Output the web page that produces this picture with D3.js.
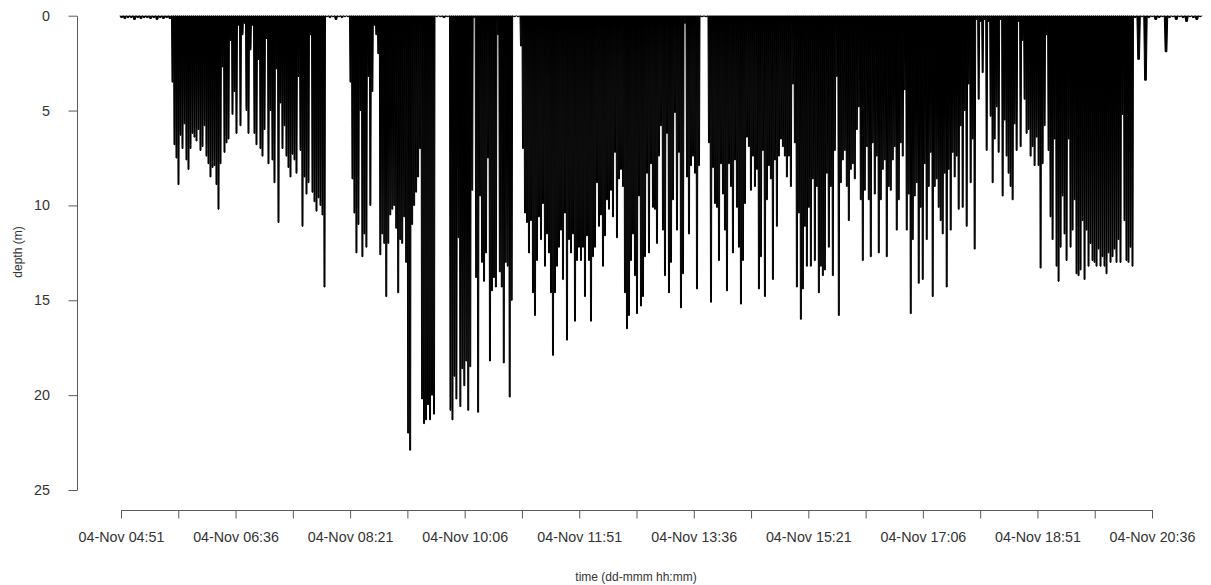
<!DOCTYPE html>
<html>
<head>
<meta charset="utf-8">
<script src="https://cdn.jsdelivr.net/npm/d3@7"></script>
<style>
  html, body { margin: 0; padding: 0; background: #fff; }
  svg { display: block; font-family: "Liberation Sans", Arial, Helvetica, sans-serif; }
</style>
</head>
<body>
<svg id="chart" width="1211" height="585"></svg>
<script>
// Dive record of one day: surface periods and dive bouts.
// Each phase runs from its start to its end time; its dives are spread evenly across it.
const recordDay = "2011-11-04";

const phaseTimes = [
  ["04:50:05", "05:37:17"],  // surface
  ["05:37:17", "07:58:26"],  // bout 1
  ["07:58:26", "08:20:26"],  // surface
  ["08:20:26", "09:38:48"],  // bout 2
  ["09:38:48", "09:52:06"],  // surface
  ["09:52:06", "10:50:00"],  // bout 3
  ["10:50:00", "10:56:43"],  // surface
  ["10:56:43", "13:41:42"],  // bout 4
  ["13:41:42", "13:49:02"],  // surface
  ["13:49:02", "20:19:02"],  // bout 5
  ["20:19:02", "21:21:48"]   // surface
];

// Maximum depth (m) of each dive, in order
const surface1 = [0.1, 0.15, 0.1, 0.1, 0.2, 0.1, 0.15, 0.1, 0.1, 0.15, 0.1, 0.2, 0.1, 0.15, 0.1, 0.15];
const bout1 = [
  3.5, 6.8, 7.5, 8.9, 6.3, 7.0, 5.7, 7.6, 8.1, 7.0, 6.2, 6.4, 6.6, 6.0,
  7.1, 6.9, 5.8, 7.4, 7.8, 8.5, 8.0, 7.9, 8.9, 10.2, 7.8, 2.7, 7.2, 6.7, 6.5, 1.3, 5.2, 4.0, 6.2, 0.5,
  5.8, 1.0, 0.4, 5.0, 6.2, 1.8, 0.5, 6.2, 6.8, 2.3, 7.0, 7.4, 6.0, 1.2, 7.8, 5.0, 7.6, 8.8, 2.8, 10.9,
  4.6, 7.0, 5.8, 7.4, 8.0, 8.5, 7.3, 7.6, 8.3, 3.2,
  7.1, 11.1, 8.5, 9.4, 8.8, 1.0, 9.3, 9.8, 10.3, 9.6, 10.0, 10.5, 14.3
];
const surface2 = [0.05, 0.1, 0.05, 0.2, 0.05, 0.1, 0.05, 0.05];
const bout2 = [
  3.5, 8.6, 10.4, 12.5, 11.0, 5.0, 12.7, 11.5, 12.2, 3.2, 10.0, 4.0, 0.5, 1.0, 2.0, 12.6, 11.5, 12.0,
  14.8, 12.0, 10.5, 10.2, 10.0, 11.2, 14.6,
  11.8, 12.0, 10.6, 13.0, 22.0, 22.9, 11.0, 10.0, 9.3, 8.5, 7.0, 20.2, 21.5, 21.3, 20.5, 21.3, 20.0, 21.0
];
const surface3 = [0.05, 0.05, 0.1, 0.05];
const bout3 = [
  20.8, 21.3, 19.0, 20.2, 11.7, 20.6, 18.6, 19.5, 18.2, 20.8, 18.5, 9.2, 0.1, 13.8, 20.9, 9.5, 13.0,
  14.0, 12.5, 7.5, 18.2, 14.5, 13.8, 14.3, 1.0,
  13.5, 14.3, 18.3, 13.0, 13.2, 20.1, 15.0
];
const surface4 = [0.05, 0.05];
const bout4 = [
  1.6, 7.0, 10.4, 10.9, 12.5, 10.8, 14.6, 15.8, 12.9, 10.6, 11.8, 9.9, 13.2, 11.5, 12.5, 14.6, 17.9,
  14.6, 13.2, 12.2, 11.3, 13.9, 10.4, 17.1, 11.8, 12.5, 11.5, 16.1, 12.9, 12.2, 12.9, 12.2, 14.8, 11.6,
  12.9, 16.1, 12.7, 12.2, 8.8, 11.1,
  10.5, 13.2, 11.6, 9.7, 10.2, 9.2, 10.6, 7.2, 11.7, 8.6, 8.1, 9.0, 14.6, 16.5, 15.8, 12.9, 11.5, 13.7,
  15.7, 9.5, 15.3, 14.8, 12.7, 8.3, 12.5, 7.8, 10.1, 10.2, 12.0, 7.4, 5.8, 11.3, 13.7, 6.2, 14.6, 13.0,
  9.7, 5.1, 11.3, 7.2, 15.4, 13.6, 0.4, 8.5, 11.5, 7.9, 7.4, 8.3, 14.4, 7.9
];
const surface5 = [0.05, 0.05];
const bout5 = [
  6.7, 15.1, 8.0, 9.9, 10.1, 12.9, 7.8, 9.4, 11.3, 14.5, 7.8, 9.0, 12.5, 7.6, 10.1, 12.2, 15.2, 12.9,
  9.9, 6.4, 6.9, 9.2, 7.4, 9.0, 8.1, 14.4, 12.7, 7.1, 14.8, 9.7, 7.9, 8.6, 13.9, 7.6, 11.1, 7.4, 6.5,
  6.9, 7.4, 8.5, 7.4, 9.0, 3.6, 6.7, 14.3, 10.4,
  16.0, 14.4, 11.1, 13.2, 10.1, 13.2, 8.6, 12.9, 9.0, 14.6, 13.2, 13.7, 13.4, 8.3, 12.2, 9.0, 13.7, 7.1,
  3.2, 15.8, 8.8, 7.6, 7.1, 9.0, 10.8, 8.1, 7.8, 8.6, 6.0, 4.8, 9.7, 12.9, 9.2, 6.9, 9.7, 12.7, 6.7,
  9.4, 7.4, 12.5, 9.7, 8.1, 7.6, 12.7, 9.0, 9.2, 7.6, 6.9, 11.3, 9.7,
  6.7, 7.4, 3.9, 11.3, 9.4, 15.7, 11.8, 9.5, 8.8, 14.1, 10.1, 13.9, 7.8, 11.8, 9.0, 7.2, 14.8, 9.0,
  8.6, 10.1, 10.8, 11.5, 8.3, 14.3, 8.1, 11.3, 7.2, 8.5, 7.4, 10.2, 5.8, 10.1, 5.0, 11.1, 3.6, 8.8,
  6.5, 12.3, 0.2, 4.4, 0.3, 3.0, 0.2, 7.1, 0.3, 5.3, 8.8, 6.5, 4.8, 7.2,
  0.2, 9.5, 5.5, 7.4, 8.3, 9.0, 9.7, 5.7, 7.1, 0.3, 6.9, 1.3, 4.4, 6.2, 6.0, 7.4, 6.9, 7.9, 6.4, 7.9,
  13.3, 7.8, 5.8, 1.0, 7.1, 10.6, 11.8, 6.5, 13.2, 14.0, 12.2, 9.5, 11.5, 12.9, 6.5, 12.2, 11.3, 9.7,
  13.6, 13.7, 13.4, 10.8, 13.9, 11.3, 13.2, 12.0, 12.9, 13.0, 13.2, 12.3,
  13.2, 12.7, 13.2, 13.6, 12.5, 13.0, 12.7, 12.3, 13.0, 11.8, 13.0, 5.2, 10.8, 12.9, 13.0, 12.2, 13.2
];
const surface6 = [0.1, 2.3, 0.05, 3.4, 0.1, 0.05, 0.2, 0.1, 0.05, 1.9, 0.1, 0.05, 0.2, 0.05, 0.1, 0.3, 0.05, 0.1, 0.2, 0.05];

const phaseDepths = [surface1, bout1, surface2, bout2, surface3, bout3, surface4, bout4, surface5, bout5, surface6];

// Axis ticks (every 52.5 min; every second one labelled) and depth ticks
const tickTimes = [
  "04:51:00", "05:43:30", "06:36:00", "07:28:30", "08:21:00", "09:13:30", "10:06:00",
  "10:58:30", "11:51:00", "12:43:30", "13:36:00", "14:28:30", "15:21:00", "16:13:30",
  "17:06:00", "17:58:30", "18:51:00", "19:43:30", "20:36:00"
];
const depthTicks = [0, 5, 10, 15, 20, 25];

const xTitle = "time (dd-mmm hh:mm)";
const yTitle = "depth (m)";

// ---------------------------------------------------------------
const parse = d3.utcParse("%Y-%m-%d %H:%M:%S");
const at = s => parse(recordDay + " " + s);
const fmt = d3.utcFormat("%d-%b %H:%M");

const svg = d3.select("#chart");

const x = d3.scaleUtc()
  .domain([at(tickTimes[0]), at(tickTimes[tickTimes.length - 1])])
  .range([121, 1152]);

const y = d3.scaleLinear()
  .domain([0, 25])
  .range([15.7, 490]);

// Build the profile: each dive drops steeply to its max depth, holds briefly, then rises
const profile = [];
phaseTimes.forEach((span, k) => {
  const t0 = at(span[0]).getTime();
  const t1 = at(span[1]).getTime();
  const depths = phaseDepths[k];
  const step = (t1 - t0) / depths.length;
  depths.forEach((d, i) => {
    profile.push({ t: new Date(t0 + i * step), d: 0 });
    profile.push({ t: new Date(t0 + (i + 0.25) * step), d: d });
    profile.push({ t: new Date(t0 + (i + 0.75) * step), d: d });
  });
  profile.push({ t: new Date(t1), d: 0 });
});

const line = d3.line()
  .x(p => x(p.t))
  .y(p => y(p.d));

svg.append("path")
  .datum(profile)
  .attr("d", line)
  .attr("fill", "#000")
  .attr("stroke", "#000")
  .attr("stroke-width", 1)
  .attr("stroke-linejoin", "miter")
  .attr("stroke-miterlimit", 2);

// Axes
const axisColor = "#5a5a5a";
const textColor = "#333";

const xAxis = d3.axisBottom(x)
  .tickValues(tickTimes.map(at))
  .tickSize(8.5)
  .tickSizeOuter(0)
  .tickPadding(13)
  .tickFormat((d, i) => (i % 2 === 0 ? fmt(d) : ""));

const gx = svg.append("g")
  .attr("transform", "translate(0,510)")
  .call(xAxis);

const yAxis = d3.axisLeft(y)
  .tickValues(depthTicks)
  .tickSize(8.5)
  .tickSizeOuter(0)
  .tickPadding(18.5)
  .tickFormat(d3.format("d"));

const gy = svg.append("g")
  .attr("transform", "translate(77,0)")
  .call(yAxis);

[gx, gy].forEach(g => {
  g.selectAll(".domain, .tick line").attr("stroke", axisColor).attr("stroke-width", 1);
  g.selectAll(".tick text")
    .attr("fill", textColor)
    .style("font-size", "14.3px")
    .style("font-family", "'Liberation Sans', Arial, Helvetica, sans-serif");
});

// Axis titles
svg.append("text")
  .attr("x", 636)
  .attr("y", 581)
  .attr("text-anchor", "middle")
  .attr("fill", textColor)
  .style("font-size", "12px")
  .text(xTitle);

svg.append("text")
  .attr("transform", "translate(22,252) rotate(-90)")
  .attr("text-anchor", "middle")
  .attr("fill", textColor)
  .style("font-size", "12px")
  .text(yTitle);
</script>
</body>
</html>
